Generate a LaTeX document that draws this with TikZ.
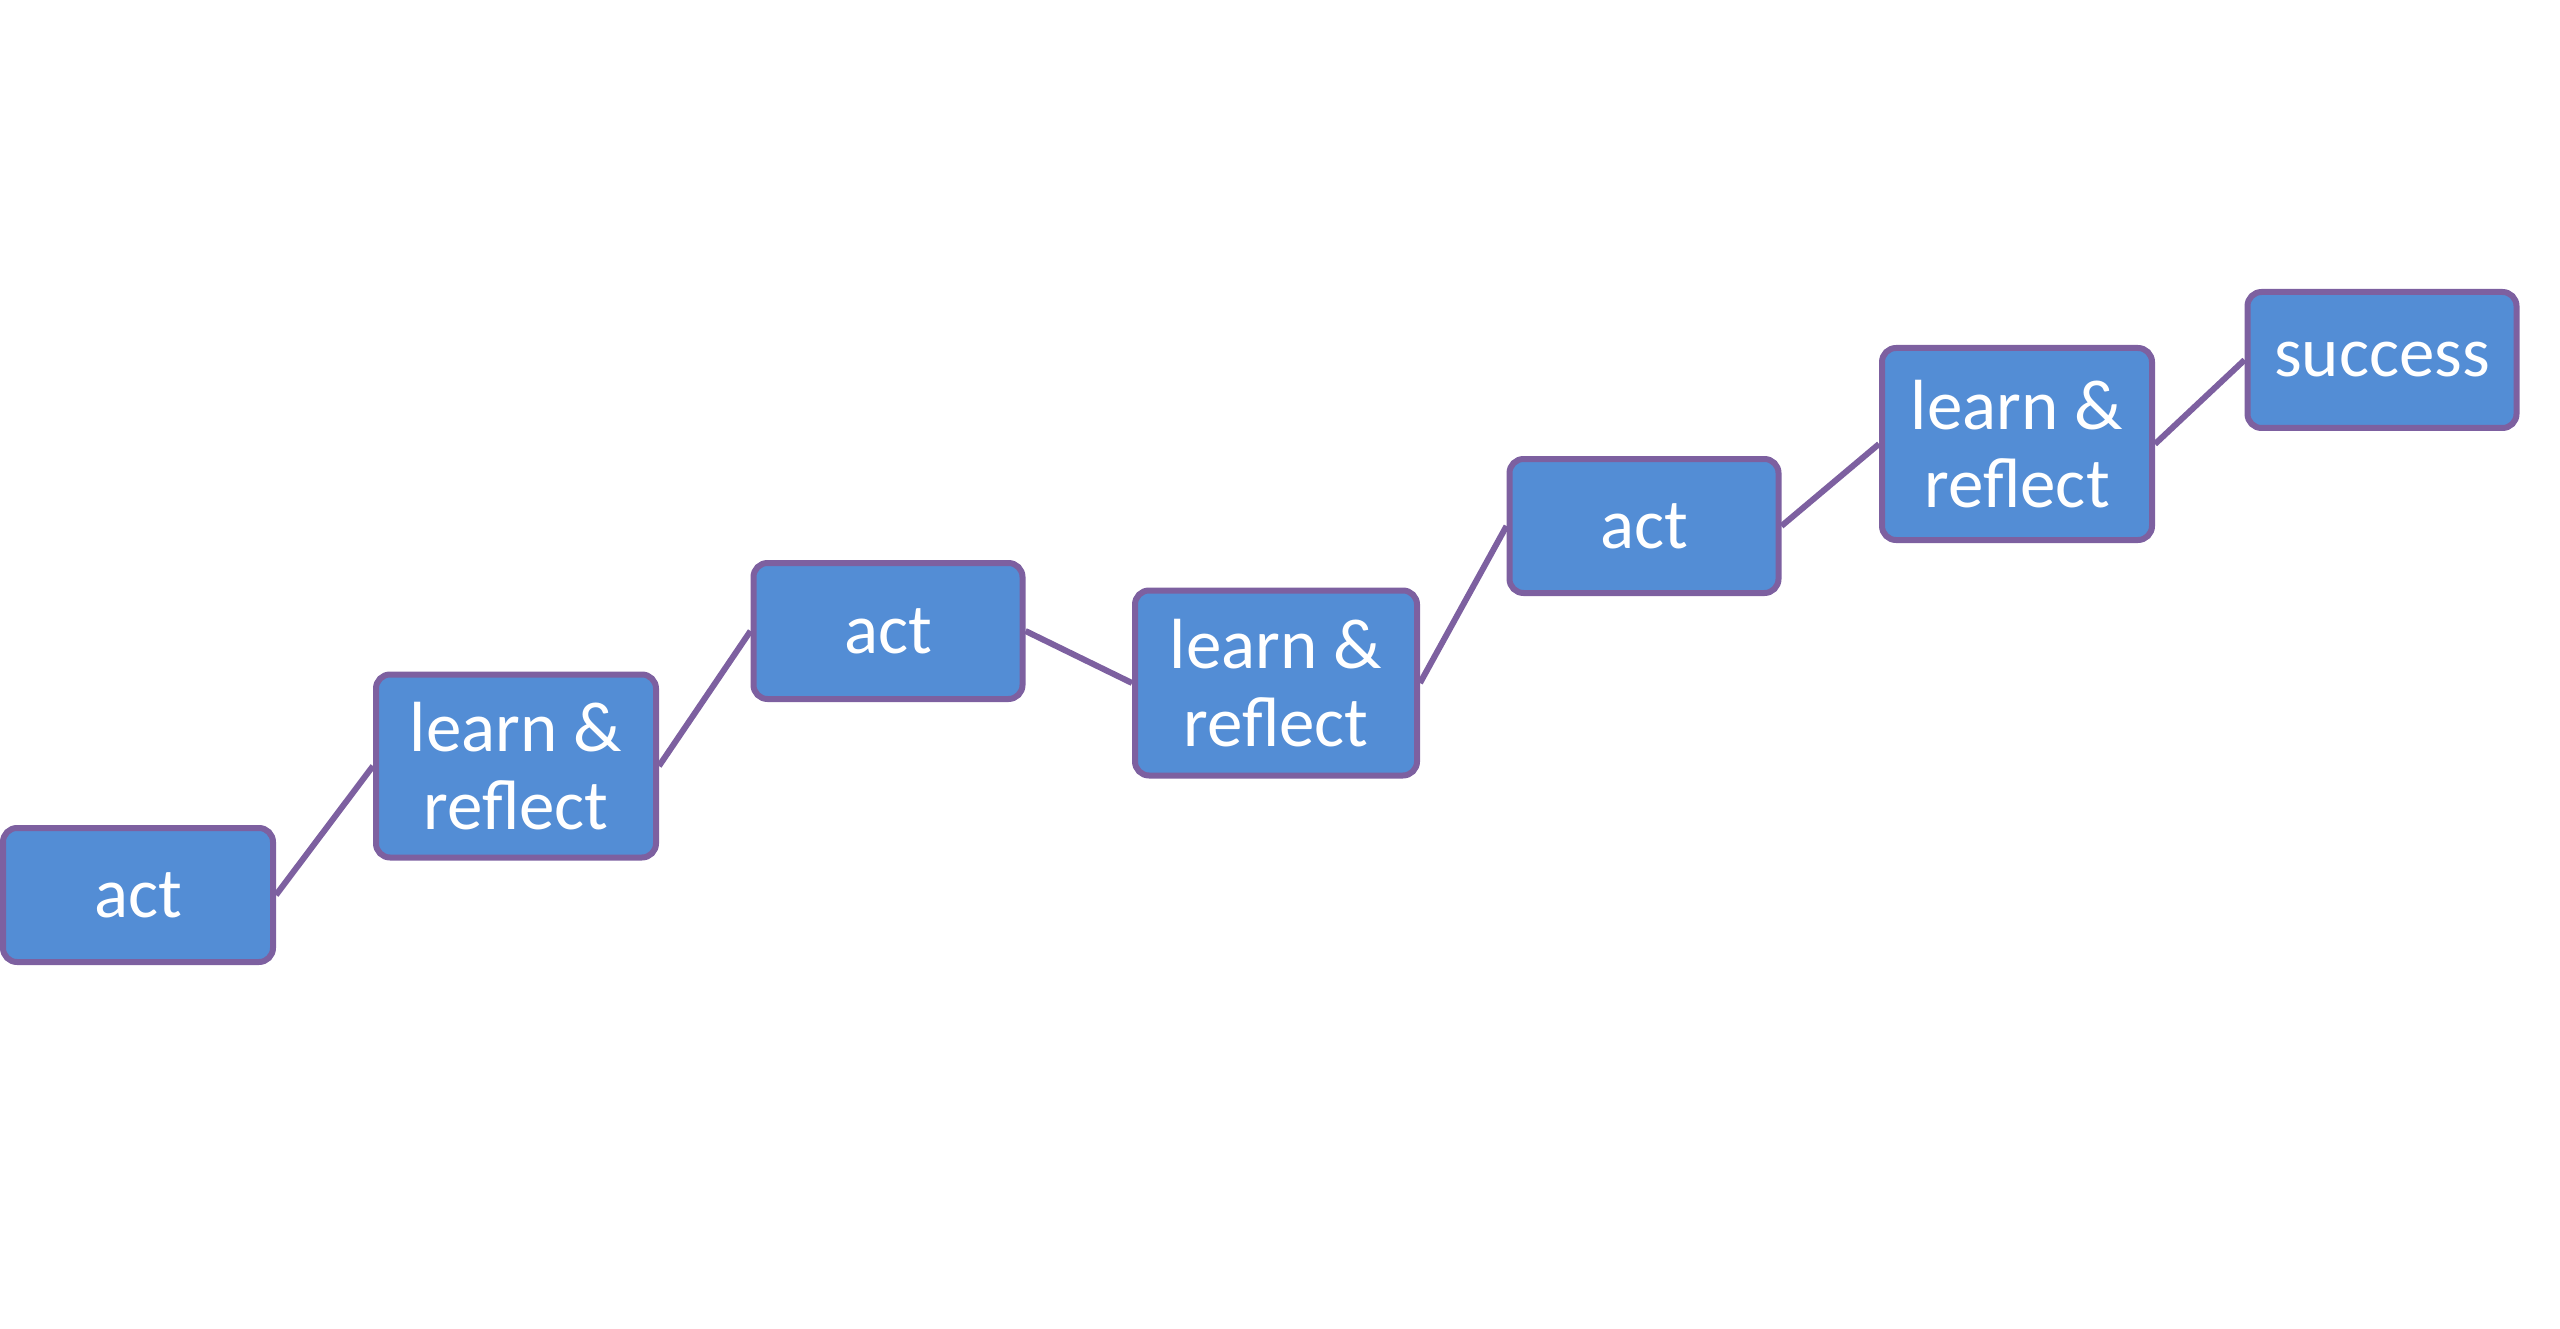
\documentclass[tikz,border=0pt]{standalone}
\usepackage{fontspec}
\setmainfont{Carlito}
\definecolor{boxfill}{RGB}{83,141,213}
\definecolor{boxline}{RGB}{125,96,160}
\tikzset{
  stepbox/.style={draw=boxline, fill=boxfill, line width=6pt, rounded corners=14pt,
    text=white, align=center, inner sep=0pt,
    font=\fontsize{71}{78}\selectfont},
  link/.style={draw=boxline, line width=6pt}
}
\begin{document}
\begin{tikzpicture}[x=1pt,y=-1pt]
\useasboundingbox (0,0) rectangle (2560,1329);
\node[stepbox, minimum width=270pt, minimum height=134pt] (a1) at (138,895) {act};
\node[stepbox, minimum width=280pt, minimum height=183pt] (l1) at (516,766) {learn \&\\reflect};
\node[stepbox, minimum width=269pt, minimum height=136pt] (a2) at (888,631) {act};
\node[stepbox, minimum width=282pt, minimum height=185pt] (l2) at (1276,683) {learn \&\\reflect};
\node[stepbox, minimum width=269pt, minimum height=134pt] (a3) at (1644,526) {act};
\node[stepbox, minimum width=270pt, minimum height=192pt] (l3) at (2017,444) {learn \&\\reflect};
\node[stepbox, minimum width=269pt, minimum height=136pt] (s) at (2382,360) {success};
\draw[link] (a1.east) -- (l1.west);
\draw[link] (l1.east) -- (a2.west);
\draw[link] (a2.east) -- (l2.west);
\draw[link] (l2.east) -- (a3.west);
\draw[link] (a3.east) -- (l3.west);
\draw[link] (l3.east) -- (s.west);
\end{tikzpicture}
\end{document}
